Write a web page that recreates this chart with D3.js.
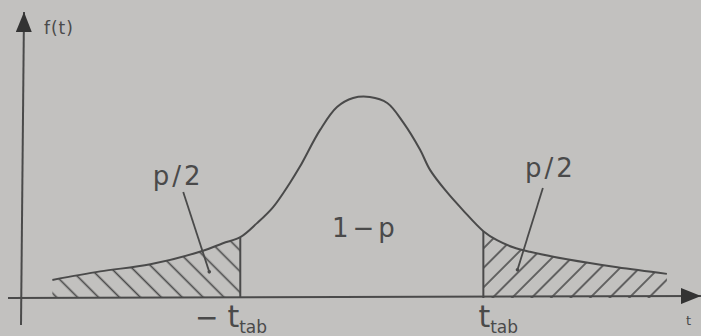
<!DOCTYPE html>
<html>
<head>
<meta charset="utf-8">
<script src="https://cdn.jsdelivr.net/npm/d3@7"></script>
<style>
  html, body { margin: 0; padding: 0; background: #c2c1bf; }
  svg { display: block; }
  text { font-family: 'DejaVu Sans', sans-serif; fill: #4a4a4a; }
</style>
</head>
<body>
<svg id="chart"></svg>
<script>
const width = 701;
const height = 336;

// density curve: t and f(t)
const tValues = [-5.06, -4.29, -3.48, -2.63, -2.31, -2.03, -1.76, -1.5, -1.23, -1.07, -0.74, -0.47,
  -0.21, 0.06, 0.34, 0.6, 0.87, 1.03, 1.3, 1.56, 1.89, 2.11, 2.37, 2.64, 3.24, 4.05, 4.85];
const fValues = [0.036, 0.053, 0.067, 0.094, 0.109, 0.121, 0.149, 0.181, 0.229, 0.261, 0.335, 0.38,
  0.398, 0.4, 0.388, 0.349, 0.295, 0.255, 0.211, 0.175, 0.133, 0.115, 0.101, 0.092, 0.077, 0.061, 0.048];

// critical values (left and right cut)
const cutLeft = -2.03;
const cutRight = 1.89;

const data = tValues.map((t, i) => ({ t: t, f: fValues[i] }));

const ink = '#4a4a4a';

const xScale = d3.scaleLinear().domain([-5.55, 5.4]).range([22, 701]);
const yScale = d3.scaleLinear().domain([0, 0.4]).range([298, 97]);

const chart = d3.select('#chart').attr('width', width).attr('height', height);
const defs = chart.append('defs');

/* hatch patterns */
const hatch = (id, angle, gap) => {
  defs.append('pattern')
    .attr('id', id)
    .attr('patternUnits', 'userSpaceOnUse')
    .attr('width', gap)
    .attr('height', gap)
    .attr('patternTransform', `rotate(${angle})`)
    .append('line')
    .attr('x1', gap / 2).attr('x2', gap / 2)
    .attr('y1', -2).attr('y2', gap + 2)
    .attr('stroke', ink)
    .attr('stroke-width', 1.6);
};
hatch('hatchLeft', -45, 14.8);
hatch('hatchRight', 45, 13.8);

defs.append('marker')
  .attr('id', 'arrow')
  .attr('viewBox', '0 0 20 16')
  .attr('refX', 20).attr('refY', 8)
  .attr('markerWidth', 20).attr('markerHeight', 16)
  .attr('markerUnits', 'userSpaceOnUse')
  .attr('orient', 'auto')
  .append('path')
  .attr('d', 'M0,0 L20,8 L0,16 Z')
  .attr('fill', '#333');

const curve = d3.curveCatmullRom.alpha(0.5);

const area = d3.area()
  .x(d => xScale(d.t))
  .y0(yScale(0))
  .y1(d => yScale(d.f))
  .curve(curve);

chart.append('path')
  .datum(data.filter(d => d.t <= cutLeft))
  .attr('d', area)
  .attr('fill', 'url(#hatchLeft)');

chart.append('path')
  .datum(data.filter(d => d.t >= cutRight))
  .attr('d', area)
  .attr('fill', 'url(#hatchRight)');

/* curve */
const line = d3.line()
  .x(d => xScale(d.t))
  .y(d => yScale(d.f))
  .curve(curve);

chart.append('path')
  .datum(data)
  .attr('d', line)
  .attr('fill', 'none')
  .attr('stroke', ink)
  .attr('stroke-width', 2);

/* cut lines */
[cutLeft, cutRight].forEach(c => {
  const d = data.find(p => p.t === c);
  chart.append('line')
    .attr('x1', xScale(c)).attr('x2', xScale(c))
    .attr('y1', yScale(0)).attr('y2', yScale(d.f))
    .attr('stroke', ink)
    .attr('stroke-width', 2);
});

/* axes */
chart.append('line')
  .attr('x1', 8).attr('x2', 701)
  .attr('y1', yScale(0)).attr('y2', yScale(0) - 2)
  .attr('stroke', ink)
  .attr('stroke-width', 2)
  .attr('marker-end', 'url(#arrow)');

chart.append('line')
  .attr('x1', xScale(-5.55) - 1).attr('x2', xScale(-5.55) + 2)
  .attr('y1', 325).attr('y2', 12)
  .attr('stroke', ink)
  .attr('stroke-width', 2)
  .attr('marker-end', 'url(#arrow)');

chart.append('text')
  .attr('x', 44).attr('y', 34)
  .attr('font-size', 17).attr('letter-spacing', 1)
  .text('f(t)');

chart.append('text')
  .attr('x', 686).attr('y', 325)
  .attr('font-size', 13)
  .text('t');

/* pointers from labels into the tails */
const pointers = [
  { from: [-2.95, 0.211], to: [-2.53, 0.052] },
  { from: [2.85, 0.219], to: [2.44, 0.056] }
];
pointers.forEach(p => {
  chart.append('line')
    .attr('x1', xScale(p.from[0])).attr('y1', yScale(p.from[1]))
    .attr('x2', xScale(p.to[0])).attr('y2', yScale(p.to[1]))
    .attr('stroke', ink)
    .attr('stroke-width', 1.8);
  chart.append('circle')
    .attr('cx', xScale(p.to[0])).attr('cy', yScale(p.to[1]))
    .attr('r', 1.8)
    .attr('fill', ink);
});

/* labels */
chart.append('text')
  .attr('x', xScale(-3.44)).attr('y', yScale(0.225))
  .attr('font-size', 26).attr('letter-spacing', 3)
  .text('p/2');

chart.append('text')
  .attr('x', xScale(2.56)).attr('y', yScale(0.241))
  .attr('font-size', 26).attr('letter-spacing', 3)
  .text('p/2');

chart.append('text')
  .attr('x', xScale(-0.55)).attr('y', yScale(0.121))
  .attr('font-size', 26).attr('letter-spacing', 4)
  .text('1\u2212p');

const tabLabel = (x, prefix) => {
  const t = chart.append('text')
    .attr('x', x).attr('y', yScale(-0.058));
  if (prefix) t.append('tspan').attr('font-size', 28).text('\u2212 ');
  t.append('tspan').attr('font-size', 30).text('t');
  t.append('tspan').attr('font-size', 17).attr('dy', 6).text('tab');
};
tabLabel(xScale(-2.76), true);
tabLabel(xScale(1.81), false);
</script>
</body>
</html>
